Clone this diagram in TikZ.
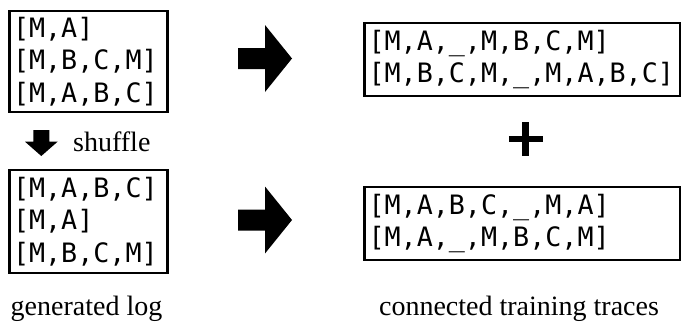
\documentclass[tikz,border=0pt]{standalone}
\usepackage{fontspec}
\setmainfont{Liberation Serif}
\setmonofont{DejaVu Sans Mono}
\usetikzlibrary{positioning}
\tikzset{
  logbox/.style={draw=black, line width=2.4pt, inner sep=3.5pt, align=left,
    font=\fontsize{26.7}{32.5}\selectfont\ttfamily},
  caption/.style={font=\fontsize{28}{30}\selectfont, inner sep=0pt},
  pics/rightblock/.style={code={
    \fill[black] (-27,-10.5) -- (0,-10.5) -- (0,-33.5) -- (27,0)
      -- (0,33.5) -- (0,10.5) -- (-27,10.5) -- cycle;}},
  pics/downblock/.style={code={
    \fill[black] (-8,-11.7) -- (8,-11.7) -- (8,0) -- (16.3,0)
      -- (0,14.3) -- (-16.3,0) -- (-8,0) -- cycle;}},
  plusbar/.style={line width=6.5pt, draw=black}
}
\begin{document}
\begin{tikzpicture}[x=1pt, y=-1pt]
    \useasboundingbox (0,0) rectangle (682,324);

    % generated log, before and after shuffling
    \node[logbox, minimum width=158pt, minimum height=101pt, text width=151pt] (logtop) at (88.5,61.5)
      {[M,A]\\{}[M,B,C,M]\\{}[M,A,B,C]};
    \node[logbox, minimum width=158pt, minimum height=103pt, text width=151pt] (logbot) at (88.5,221.5)
      {[M,A,B,C]\\{}[M,A]\\{}[M,B,C,M]};

    % connected traces
    \node[logbox, inner sep=4pt, minimum width=315.5pt, minimum height=73pt, text width=307.5pt] (tracetop) at (522.3,59.5)
      {[M,A,\_,M,B,C,M]\\{}[M,B,C,M,\_,M,A,B,C]};
    \node[logbox, inner sep=4pt, minimum width=315.5pt, minimum height=73pt, text width=307.5pt] (tracebot) at (522.3,223.5)
      {[M,A,B,C,\_,M,A]\\{}[M,A,\_,M,B,C,M]};

    % block arrows and plus
    \pic at (265,58.5) {rightblock};
    \pic at (265,220) {rightblock};
    \pic at (41.3,141.7) {downblock};
    \coordinate (plus) at (525.7,139);
    \draw[plusbar] ([xshift=-16.8pt]plus) -- ([xshift=16.8pt]plus);
    \draw[plusbar] ([yshift=16.8pt]plus) -- ([yshift=-16.8pt]plus);

    % labels
    \node[caption, anchor=base west] (shuf) at (73,151.7) {shuffle};
    \node[caption, anchor=base] (genlog) at (86.5,315) {generated log};
    \node[caption, anchor=base] (conn) at (519,315) {connected training traces};
\end{tikzpicture}
\end{document}
